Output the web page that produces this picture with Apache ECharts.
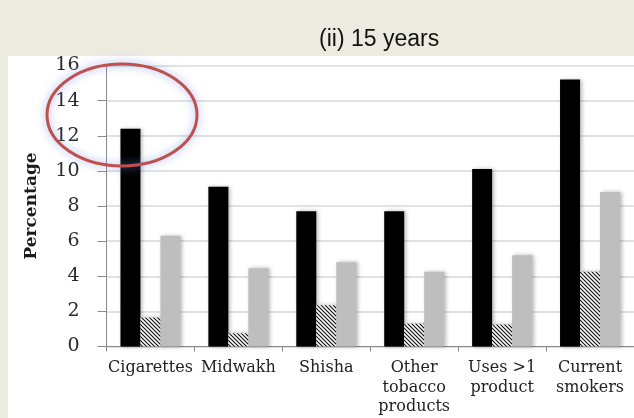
<!DOCTYPE html>
<html>
<head>
<meta charset="utf-8">
<script src="https://cdn.jsdelivr.net/npm/echarts@6/dist/echarts.min.js"></script>
<style>
html,body{margin:0;padding:0;background:#EDEBE0;}
#c{width:634px;height:418px;}
</style>
</head>
<body>
<div id="c"></div>
<script>
const categories = ['Cigarettes', 'Midwakh', 'Shisha', 'Other\ntobacco\nproducts', 'Uses >1\nproduct', 'Current\nsmokers'];
const blackValues = [12.4, 9.1, 7.7, 7.7, 10.1, 15.2];
const hatchValues = [1.65, 0.75, 2.35, 1.3, 1.25, 4.25];
const grayValues = [6.3, 4.45, 4.8, 4.25, 5.2, 8.8];
const yTicks = {min: 0, max: 16, interval: 2};

function hatchPattern() {
  const s = 4;
  const cv = document.createElement('canvas');
  cv.width = s; cv.height = s;
  const g = cv.getContext('2d');
  g.fillStyle = '#ffffff';
  g.fillRect(0, 0, s, s);
  g.strokeStyle = '#111111';
  g.lineWidth = 1.2;
  g.beginPath();
  g.moveTo(-1, -1); g.lineTo(s + 1, s + 1);
  g.moveTo(-1, s - 1); g.lineTo(1, s + 1);
  g.moveTo(s - 1, -1); g.lineTo(s + 1, 1);
  g.stroke();
  return cv;
}

const chart = echarts.init(document.getElementById('c'), null, {renderer: 'canvas'});
const shadow = {shadowColor: 'rgba(0,0,0,0.28)', shadowBlur: 4, shadowOffsetX: 2, shadowOffsetY: 0};
const serif = 'DejaVu Serif';
chart.setOption({
  animation: false,
  backgroundColor: 'transparent',
  graphic: [
    {type: 'rect', shape: {x: 8, y: 56, width: 640, height: 400}, style: {fill: '#ffffff'}, z: -10, silent: true},
    {type: 'text', left: 319, top: 28, style: {text: '(ii) 15 years', font: '23px "Liberation Sans", Arial, sans-serif', fill: '#111'}, z: 10},
    {type: 'ellipse', shape: {cx: 122, cy: 115, rx: 75, ry: 51}, style: {fill: 'none', stroke: '#C0504D', lineWidth: 3, shadowBlur: 9, shadowColor: 'rgba(110,140,230,0.75)'}, z: 100}
  ],
  grid: {left: 106.5, right: -6.7, top: 65.5, bottom: 71.5},
  xAxis: {
    type: 'category',
    data: categories,
    axisLine: {lineStyle: {color: '#8a8a8a', width: 1}},
    axisTick: {show: true, length: 5, lineStyle: {color: '#8a8a8a'}},
    axisLabel: {interval: 0, fontFamily: serif, fontSize: 16, color: '#222', lineHeight: 19.5, margin: 12}
  },
  yAxis: {
    type: 'value',
    min: yTicks.min, max: yTicks.max, interval: yTicks.interval,
    name: 'Percentage',
    nameLocation: 'middle',
    nameGap: 66,
    nameTextStyle: {fontFamily: serif, fontWeight: 'bold', fontSize: 17, color: '#1a1a1a'},
    axisLine: {show: true, lineStyle: {color: '#8a8a8a', width: 1}},
    axisTick: {show: true, length: 9, lineStyle: {color: '#8a8a8a'}},
    axisLabel: {fontFamily: serif, fontSize: 19, color: '#2a2a2a', margin: 27},
    splitLine: {lineStyle: {color: '#d9d9d9', width: 1.5}}
  },
  series: [
    {type: 'bar', data: blackValues, barWidth: 20, barGap: '0%', itemStyle: Object.assign({color: '#000000'}, shadow)},
    {type: 'bar', data: hatchValues, barWidth: 20, barGap: '0%', itemStyle: Object.assign({color: {image: hatchPattern(), repeat: 'repeat'}}, shadow)},
    {type: 'bar', data: grayValues, barWidth: 20, barGap: '0%', itemStyle: Object.assign({color: '#BEBEBE'}, shadow)}
  ]
});
</script>
</body>
</html>
